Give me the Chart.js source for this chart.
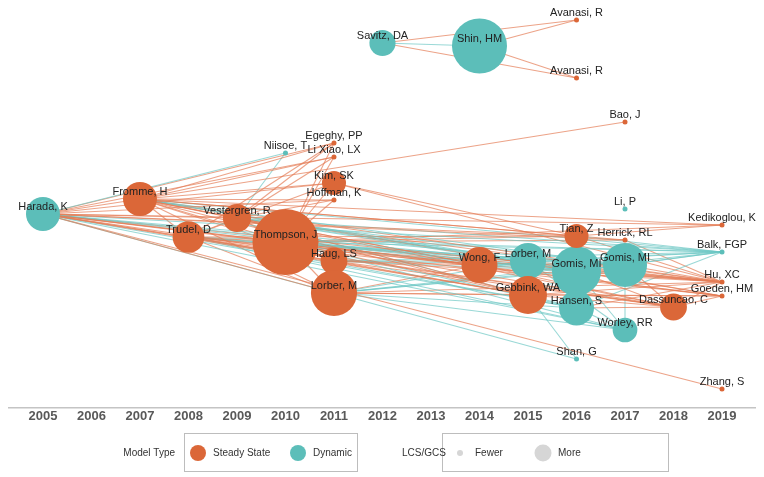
<!DOCTYPE html>
<html><head><meta charset="utf-8">
<script src="https://cdn.jsdelivr.net/npm/chart.js@4/dist/chart.umd.min.js"></script>
<style>html,body{margin:0;padding:0;background:#fff}canvas{display:block}</style>
</head><body>
<canvas id="c" width="764" height="477"></canvas>
<script>
// ---- data ----
const ids = ['harada','fromme','trudel','vestergren','thompson','niisoe','haug','lorber11','kim','hoffman','egeghy','lixiao','savitz','shin','wong','lorber15','gebbink','gomis16','hansen','tian','shan','avanasiA','avanasiB','gomis17','herrick','worley','bao','lip','dassuncao','kedikoglou','balk','huxc','goeden','zhang'];
const authorLabels = ['Harada, K','Fromme, H','Trudel, D','Vestergren, R','Thompson, J','Niisoe, T','Haug, LS','Lorber, M','Kim, SK','Hoffman, K','Egeghy, PP','Li Xiao, LX','Savitz, DA','Shin, HM','Wong, F','Lorber, M','Gebbink, WA','Gomis, MI','Hansen, S','Tian, Z','Shan, G','Avanasi, R','Avanasi, R','Gomis, MI','Herrick, RL','Worley, RR','Bao, J','Li, P','Dassuncao, C','Kedikoglou, K','Balk, FGP','Hu, XC','Goeden, HM','Zhang, S'];
const pubYears = [2005,2007,2008,2009,2010,2010,2011,2011,2011,2011,2011,2011,2012,2014,2014,2015,2015,2016,2016,2016,2016,2016,2016,2017,2017,2017,2017,2017,2018,2019,2019,2019,2019,2019];
const layoutY = [214,199,237,218,242,153,261,293,183,200,143,157,43,46,265,261,295,271,308,236,359,20,78,265,240,330,122,209,307,225,252,282,296,389];
const modelType = ['D','S','S','S','S','D','S','S','S','S','S','S','D','D','S','D','S','D','D','S','D','S','S','D','S','D','S','D','S','S','D','S','S','S'];
const lcsGcs = [32,32,28,22,121,0,20,59,16,0,0,0,19,84,36,36,40,67,34,16,0,0,0,54,0,17,0,0,20,0,0,0,0,0];
const yearTicks = [2005,2006,2007,2008,2009,2010,2011,2012,2013,2014,2015,2016,2017,2018,2019];
const citations = [
 'harada>fromme','harada>trudel','harada>vestergren','harada>thompson','harada>niisoe','harada>haug','harada>lorber11','harada>kim','harada>egeghy','harada>lixiao','harada>hoffman','harada>wong','harada>lorber15','harada>gebbink','harada>gomis16','harada>hansen','harada>tian','harada>shan','harada>gomis17','harada>herrick','harada>worley','harada>dassuncao','harada>balk','harada>huxc','harada>goeden','harada>zhang','harada>kedikoglou',
 'fromme>trudel','fromme>vestergren','fromme>thompson','fromme>kim','fromme>egeghy','fromme>lixiao','fromme>hoffman','fromme>haug','fromme>lorber11','fromme>wong','fromme>lorber15','fromme>gebbink','fromme>gomis16','fromme>tian','fromme>bao','fromme>gomis17','fromme>herrick','fromme>dassuncao','fromme>huxc','fromme>goeden','fromme>kedikoglou','fromme>balk',
 'trudel>vestergren','trudel>thompson','trudel>haug','trudel>lorber11','trudel>kim','trudel>egeghy','trudel>wong','trudel>lorber15','trudel>gebbink','trudel>gomis16','trudel>hansen','trudel>tian','trudel>gomis17','trudel>dassuncao','trudel>huxc','trudel>goeden','trudel>balk','trudel>worley',
 'vestergren>thompson','vestergren>niisoe','vestergren>haug','vestergren>lixiao','vestergren>egeghy','vestergren>hoffman','vestergren>wong','vestergren>lorber15','vestergren>gebbink','vestergren>gomis16','vestergren>gomis17','vestergren>hansen','vestergren>huxc','vestergren>balk',
 'thompson>haug','thompson>lorber11','thompson>kim','thompson>egeghy','thompson>lixiao','thompson>hoffman','thompson>wong','thompson>lorber15','thompson>gebbink','thompson>gomis16','thompson>hansen','thompson>tian','thompson>gomis17','thompson>herrick','thompson>worley','thompson>dassuncao','thompson>huxc','thompson>goeden','thompson>balk','thompson>kedikoglou',
 'haug>wong','haug>lorber15','haug>gebbink','haug>gomis16','haug>gomis17','haug>huxc','haug>balk','haug>dassuncao',
 'lorber11>lorber15','lorber11>gomis16','lorber11>wong','lorber11>gebbink','lorber11>hansen','lorber11>gomis17','lorber11>worley','lorber11>huxc','lorber11>balk','lorber11>goeden',
 'kim>tian','kim>huxc',
 'wong>gomis16','wong>gomis17','wong>huxc','wong>dassuncao','wong>balk',
 'lorber15>gomis16','lorber15>gomis17','lorber15>balk','lorber15>huxc','lorber15>worley',
 'gebbink>shan','gebbink>gomis16','gebbink>dassuncao','gebbink>huxc','gebbink>goeden','gebbink>gomis17',
 'gomis16>gomis17','gomis16>balk','gomis16>huxc','gomis16>dassuncao','gomis16>goeden','gomis16>worley',
 'hansen>dassuncao','hansen>huxc','hansen>balk','hansen>worley',
 'tian>kedikoglou','tian>huxc','tian>balk',
 'gomis17>worley','gomis17>balk','gomis17>huxc','gomis17>dassuncao',
 'herrick>huxc','dassuncao>huxc','dassuncao>goeden',
 'savitz>shin','savitz>avanasiA','savitz>avanasiB','shin>avanasiA','shin>avanasiB'
];

// ---- styles ----
const ORANGE = 'rgb(219,103,56)';
const TEAL = 'rgb(92,190,185)';
const EDGE_ORANGE = 'rgba(228,124,86,0.7)';
const EDGE_TEAL = 'rgba(110,200,196,0.7)';
const FONT = '"Liberation Sans", Arial, sans-serif';
const radiusOf = v => v > 0 ? 3 * Math.sqrt(v) : 2.5;

// keep the plot area fixed: no automatic padding for large bubbles
Chart.BubbleController.prototype.getMaxOverflow = function () { return 0; };
Chart.LineController.prototype.getMaxOverflow = function () { return 0; };

const idx = Object.fromEntries(ids.map((k, i) => [k, i]));
const datasets = [];
function nodeSet(type, color, order) {
  const pts = [], lab = [];
  ids.forEach((k, i) => {
    if (modelType[i] === type) {
      pts.push({x: pubYears[i], y: layoutY[i], r: radiusOf(lcsGcs[i])});
      lab.push(authorLabels[i]);
    }
  });
  return {type: 'bubble', data: pts, nodeLabels: lab, backgroundColor: color, borderWidth: 0, order, clip: false};
}
datasets.push(nodeSet('S', ORANGE, 0));
datasets.push(nodeSet('D', TEAL, 1));
citations.forEach(s => {
  const [a, b] = s.split('>').map(k => idx[k]);
  const col = modelType[b] === 'D' ? EDGE_TEAL : EDGE_ORANGE;
  datasets.push({type: 'line', data: [{x: pubYears[a], y: layoutY[a]}, {x: pubYears[b], y: layoutY[b]}],
    borderColor: col, borderWidth: 1.1, pointRadius: 0, fill: false, order: 2, clip: false, tension: 0});
});

const labelPlugin = {
  id: 'nodeLabels',
  afterDatasetsDraw(chart) {
    const ctx = chart.ctx;
    ctx.save();
    ctx.font = '11px ' + FONT;
    ctx.fillStyle = '#222';
    ctx.textAlign = 'center';
    ctx.textBaseline = 'middle';
    [0, 1].forEach(di => {
      const meta = chart.getDatasetMeta(di);
      const labs = chart.data.datasets[di].nodeLabels;
      meta.data.forEach((el, i) => ctx.fillText(labs[i], el.x, el.y - 7.5));
    });
    ctx.restore();
  }
};

const legendPlugin = {
  id: 'customLegend',
  afterDraw(chart) {
    const ctx = chart.ctx;
    ctx.save();
    ctx.font = '10px ' + FONT;
    ctx.fillStyle = '#333';
    ctx.textBaseline = 'middle';
    const cy = 453;
    ctx.strokeStyle = '#bdbdbd';
    ctx.lineWidth = 1;
    ctx.strokeRect(184.5, 433.5, 173, 38);
    ctx.strokeRect(442.5, 433.5, 226, 38);
    ctx.textAlign = 'right';
    ctx.fillText('Model Type', 175, cy);
    ctx.textAlign = 'left';
    ctx.fillText('LCS/GCS', 402, cy);
    const dot = (x, r, c) => { ctx.beginPath(); ctx.arc(x, cy, r, 0, Math.PI * 2); ctx.fillStyle = c; ctx.fill(); };
    dot(198, 8, ORANGE); dot(298, 8, TEAL); dot(460, 3, '#d6d6d6'); dot(543, 8.5, '#d6d6d6');
    ctx.fillStyle = '#333';
    ctx.fillText('Steady State', 213, cy);
    ctx.fillText('Dynamic', 313, cy);
    ctx.fillText('Fewer', 475, cy);
    ctx.fillText('More', 558, cy);
    ctx.restore();
  }
};

new Chart(document.getElementById('c'), {
  type: 'bubble',
  data: {datasets},
  options: {
    responsive: false,
    animation: false,
    devicePixelRatio: 1,
    layout: {padding: {left: 9, right: 9, top: 0, bottom: 0}},
    plugins: {legend: {display: false}, tooltip: {enabled: false}},
    scales: {
      x: {
        type: 'linear', min: 2004.3, max: 2019.68,
        afterBuildTicks: s => { s.ticks = yearTicks.map(v => ({value: v})); },
        afterFit: s => { s.height = 69; },
        grid: {display: false, drawTicks: false},
        border: {display: true, color: '#c4c4c4', width: 1.5},
        ticks: {padding: 1, color: '#595959', font: {family: FONT, size: 13, weight: 'bold'}, callback: v => String(v), maxRotation: 0, autoSkip: false}
      },
      y: {type: 'linear', min: 0, max: 408, reverse: true, display: false}
    }
  },
  plugins: [labelPlugin, legendPlugin]
});
</script>
</body></html>
